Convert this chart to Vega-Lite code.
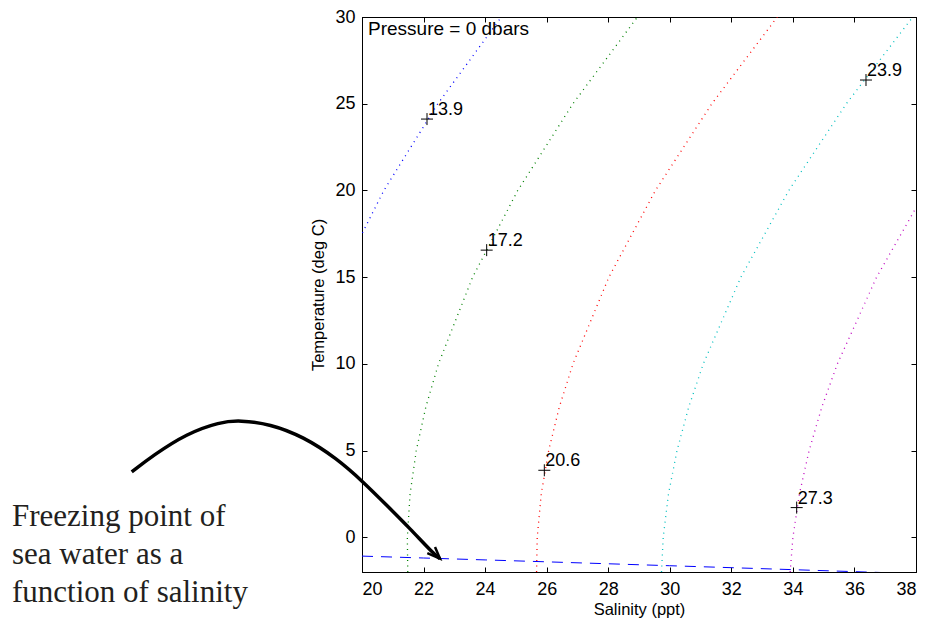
{
  "$schema": "https://vega.github.io/schema/vega-lite/v6.json",
  "width": 554,
  "height": 555,
  "autosize": {"type": "none"},
  "padding": {"left": 362, "top": 17, "right": 11, "bottom": 49},
  "background": "white",
  "config": {
    "font": "Liberation Sans",
    "view": {"stroke": "black", "strokeWidth": 1},
    "axis": {
      "labelFont": "Liberation Sans",
      "labelFontSize": 18,
      "labelColor": "black",
      "titleFont": "Liberation Sans",
      "titleFontSize": 16.5,
      "titleFontWeight": "normal",
      "titleColor": "black",
      "tickColor": "black",
      "domainColor": "black",
      "grid": false,
      "tickSize": -5,
      "tickWidth": 1
    }
  },
  "datasets": {
    "contours": [
      {"sigma": "13.9", "T": 15, "S": 19.291},
      {"sigma": "13.9", "T": 20, "S": 20.710},
      {"sigma": "13.9", "T": 25, "S": 22.464},
      {"sigma": "13.9", "T": 30, "S": 24.528},
      {"sigma": "17.2", "T": -2, "S": 21.487},
      {"sigma": "17.2", "T": 0, "S": 21.473},
      {"sigma": "17.2", "T": 2.5, "S": 21.562},
      {"sigma": "17.2", "T": 5, "S": 21.763},
      {"sigma": "17.2", "T": 7.5, "S": 22.072},
      {"sigma": "17.2", "T": 10, "S": 22.484},
      {"sigma": "17.2", "T": 15, "S": 23.594},
      {"sigma": "17.2", "T": 20, "S": 25.061},
      {"sigma": "17.2", "T": 25, "S": 26.854},
      {"sigma": "17.2", "T": 30, "S": 28.949},
      {"sigma": "20.6", "T": -2, "S": 25.672},
      {"sigma": "20.6", "T": 0, "S": 25.693},
      {"sigma": "20.6", "T": 2.5, "S": 25.824},
      {"sigma": "20.6", "T": 5, "S": 26.065},
      {"sigma": "20.6", "T": 7.5, "S": 26.409},
      {"sigma": "20.6", "T": 10, "S": 26.854},
      {"sigma": "20.6", "T": 15, "S": 28.021},
      {"sigma": "20.6", "T": 20, "S": 29.535},
      {"sigma": "20.6", "T": 25, "S": 31.367},
      {"sigma": "20.6", "T": 30, "S": 33.494},
      {"sigma": "23.9", "T": -2, "S": 29.731},
      {"sigma": "23.9", "T": 0, "S": 29.787},
      {"sigma": "23.9", "T": 2.5, "S": 29.958},
      {"sigma": "23.9", "T": 5, "S": 30.235},
      {"sigma": "23.9", "T": 7.5, "S": 30.614},
      {"sigma": "23.9", "T": 10, "S": 31.089},
      {"sigma": "23.9", "T": 15, "S": 32.310},
      {"sigma": "23.9", "T": 20, "S": 33.868},
      {"sigma": "23.9", "T": 25, "S": 35.737},
      {"sigma": "23.9", "T": 30, "S": 37.894},
      {"sigma": "27.3", "T": -2, "S": 33.911},
      {"sigma": "27.3", "T": 0, "S": 34.001},
      {"sigma": "27.3", "T": 2.5, "S": 34.212},
      {"sigma": "27.3", "T": 5, "S": 34.527},
      {"sigma": "27.3", "T": 7.5, "S": 34.939},
      {"sigma": "27.3", "T": 10, "S": 35.445},
      {"sigma": "27.3", "T": 15, "S": 36.720},
      {"sigma": "27.3", "T": 20, "S": 38.320}
    ],
    "freezing": [
      {"S": 20, "T": -1.0832},
      {"S": 22, "T": -1.1928},
      {"S": 24, "T": -1.3030},
      {"S": 26, "T": -1.4139},
      {"S": 28, "T": -1.5255},
      {"S": 30, "T": -1.6379},
      {"S": 32, "T": -1.7510},
      {"S": 34, "T": -1.8650},
      {"S": 36, "T": -1.9798},
      {"S": 38, "T": -2.0955}
    ],
    "labels": [
      {"label": "13.9", "S": 22.112, "T": 24.115},
      {"label": "17.2", "S": 24.051, "T": 16.558},
      {"label": "20.6", "S": 25.924, "T": 3.865},
      {"label": "23.9", "S": 36.375, "T": 26.366},
      {"label": "27.3", "S": 34.123, "T": 1.713}
    ],
    "pressure": [
      {"text": "Pressure = 0 dbars", "S": 20.195, "T": 28.96}
    ],
    "arrow": [
      {"i": 0, "S": 12.518, "T": 3.767},
      {"i": 1, "S": 13.219, "T": 4.731},
      {"i": 2, "S": 14.304, "T": 5.983},
      {"i": 3, "S": 15.386, "T": 6.652},
      {"i": 4, "S": 16.036, "T": 6.750},
      {"i": 5, "S": 17.011, "T": 6.537},
      {"i": 6, "S": 18.093, "T": 5.804},
      {"i": 7, "S": 19.178, "T": 4.552},
      {"i": 8, "S": 20.042, "T": 3.190},
      {"i": 9, "S": 20.803, "T": 1.846},
      {"i": 10, "S": 21.560, "T": 0.502},
      {"i": 11, "S": 22.317, "T": -0.940},
      {"i": 12, "S": 22.534, "T": -1.229}
    ],
    "arrowhead": [
      {"i": 0, "S": 22.372, "T": -0.560},
      {"i": 1, "S": 22.534, "T": -1.229},
      {"i": 2, "S": 22.122, "T": -0.906}
    ],
    "note": [
      {"text": "Freezing point of\nsea water as a\nfunction of salinity", "S": 8.628, "T": 0.635}
    ]
  },
  "resolve": {"axis": {"x": "independent", "y": "independent"}},
  "layer": [
    {
      "data": {"name": "contours"},
      "mark": {"type": "line", "strokeWidth": 1.3, "strokeDash": [1, 4.5], "clip": true},
      "encoding": {
        "x": {
          "field": "S", "type": "quantitative",
          "scale": {"domain": [20, 38], "nice": false, "zero": false},
          "axis": {"orient": "bottom", "values": [20, 22, 24, 26, 28, 30, 32, 34, 36, 38], "title": "Salinity (ppt)", "labelPadding": 13, "titlePadding": 3}
        },
        "y": {
          "field": "T", "type": "quantitative",
          "scale": {"domain": [-2, 30], "nice": false, "zero": false},
          "axis": {"orient": "left", "values": [0, 5, 10, 15, 20, 25, 30], "title": "Temperature (deg C)", "labelPadding": 12, "titlePadding": 8}
        },
        "color": {
          "field": "sigma", "type": "nominal",
          "scale": {"domain": ["13.9", "17.2", "20.6", "23.9", "27.3"], "range": ["#0000ff", "#008000", "#ff0000", "#00bfbf", "#bf00bf"]},
          "legend": null
        },
        "order": {"field": "T", "type": "quantitative"}
      }
    },
    {
      "data": {"name": "freezing"},
      "mark": {"type": "line", "color": "#0000ff", "strokeWidth": 1, "strokeDash": [11, 8], "clip": true},
      "encoding": {
        "x": {"field": "S", "type": "quantitative", "axis": {"orient": "top", "values": [20, 22, 24, 26, 28, 30, 32, 34, 36, 38], "labels": false, "title": null}},
        "y": {"field": "T", "type": "quantitative", "axis": {"orient": "right", "values": [0, 5, 10, 15, 20, 25, 30], "labels": false, "title": null}}
      }
    },
    {
      "data": {"name": "labels"},
      "mark": {"type": "point", "shape": "M-1,0L1,0M0,-1L0,1", "filled": false, "stroke": "black", "strokeWidth": 1, "size": 144, "opacity": 1},
      "encoding": {
        "x": {"field": "S", "type": "quantitative", "axis": null},
        "y": {"field": "T", "type": "quantitative", "axis": null}
      }
    },
    {
      "data": {"name": "labels"},
      "mark": {"type": "text", "align": "left", "baseline": "alphabetic", "dx": 1, "dy": -4, "fontSize": 18, "color": "black"},
      "encoding": {
        "x": {"field": "S", "type": "quantitative", "axis": null},
        "y": {"field": "T", "type": "quantitative", "axis": null},
        "text": {"field": "label"}
      }
    },
    {
      "data": {"name": "pressure"},
      "mark": {"type": "text", "align": "left", "baseline": "alphabetic", "fontSize": 19, "color": "black"},
      "encoding": {
        "x": {"field": "S", "type": "quantitative", "axis": null},
        "y": {"field": "T", "type": "quantitative", "axis": null},
        "text": {"field": "text"}
      }
    },
    {
      "data": {"name": "arrow"},
      "mark": {"type": "line", "color": "black", "strokeWidth": 3.5, "clip": false, "strokeCap": "butt", "interpolate": "basis"},
      "encoding": {
        "x": {"field": "S", "type": "quantitative", "axis": null},
        "y": {"field": "T", "type": "quantitative", "axis": null},
        "order": {"field": "i", "type": "quantitative"}
      }
    },
    {
      "data": {"name": "arrowhead"},
      "mark": {"type": "line", "color": "black", "strokeWidth": 2.5, "clip": false, "strokeJoin": "miter"},
      "encoding": {
        "x": {"field": "S", "type": "quantitative", "axis": null},
        "y": {"field": "T", "type": "quantitative", "axis": null},
        "order": {"field": "i", "type": "quantitative"}
      }
    },
    {
      "data": {"name": "note"},
      "mark": {"type": "text", "align": "left", "baseline": "alphabetic", "font": "Liberation Serif", "fontSize": 31, "lineHeight": 38, "lineBreak": "\n", "color": "#231f20", "clip": false},
      "encoding": {
        "x": {"field": "S", "type": "quantitative", "axis": null},
        "y": {"field": "T", "type": "quantitative", "axis": null},
        "text": {"field": "text"}
      }
    }
  ]
}
